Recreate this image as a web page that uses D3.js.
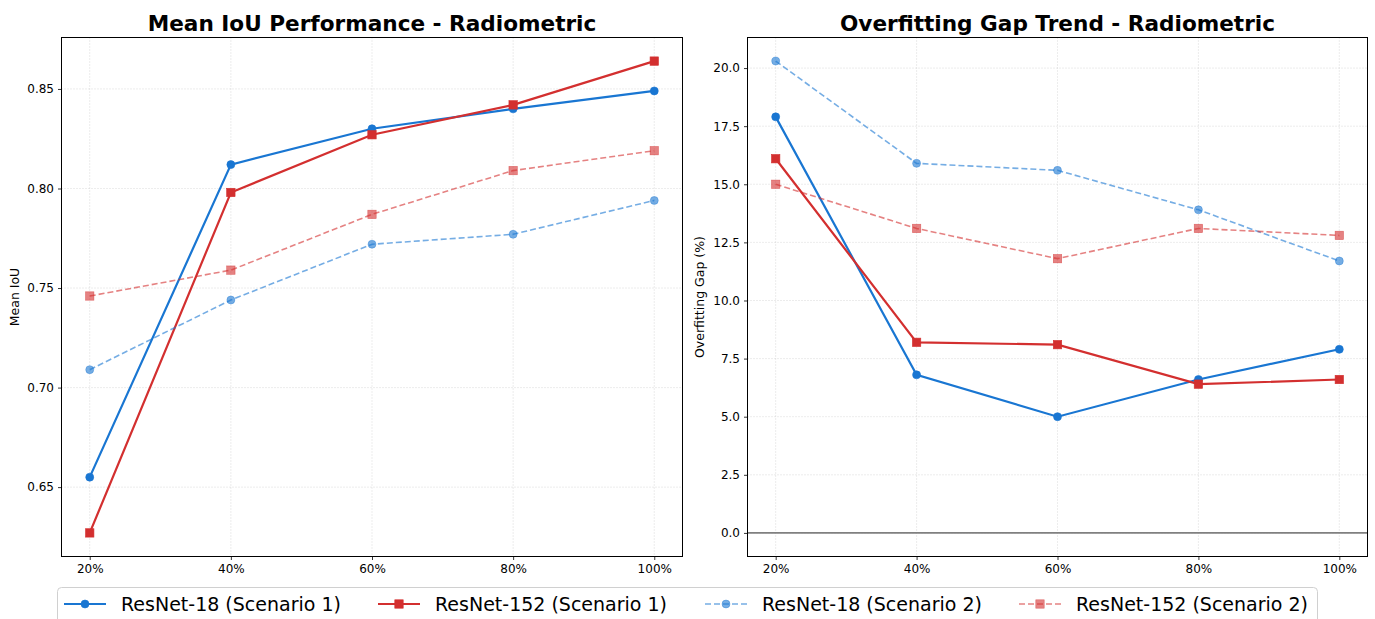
<!DOCTYPE html>
<html>
<head>
<meta charset="utf-8">
<script src="https://cdn.jsdelivr.net/npm/d3@7"></script>
<style>
  html, body { margin: 0; padding: 0; background: #fff; }
  svg { display: block; font-family: "DejaVu Sans", sans-serif; }
</style>
</head>
<body>
<svg id="chart" width="1375" height="619"></svg>
<script>
// Training-data fractions shown on the x axis
const fractions = ["20%", "40%", "60%", "80%", "100%"];

// Mean IoU per model / scenario
const iouR18S1  = [0.655, 0.812, 0.830, 0.840, 0.849];
const iouR152S1 = [0.627, 0.798, 0.827, 0.842, 0.864];
const iouR18S2  = [0.709, 0.744, 0.772, 0.777, 0.794];
const iouR152S2 = [0.746, 0.759, 0.787, 0.809, 0.819];

// Overfitting gap (%) per model / scenario
const gapR18S1  = [17.9, 6.8, 5.0, 6.6, 7.9];
const gapR152S1 = [16.1, 8.2, 8.1, 6.4, 6.6];
const gapR18S2  = [20.3, 15.9, 15.6, 13.9, 11.7];
const gapR152S2 = [15.0, 13.1, 11.8, 13.1, 12.8];

// Tick values
const iouTicks = [0.65, 0.70, 0.75, 0.80, 0.85];
const gapTicks = [0, 2.5, 5, 7.5, 10, 12.5, 15, 17.5, 20];

const seriesNames = ["ResNet-18 (Scenario 1)", "ResNet-152 (Scenario 1)",
                     "ResNet-18 (Scenario 2)", "ResNet-152 (Scenario 2)"];

const BLUE = "#1976D2", RED = "#D32F2F";
const styles = [
  { color: BLUE, marker: "circle", dashed: false, opacity: 1,   width: 2.2 },
  { color: RED,  marker: "square", dashed: false, opacity: 1,   width: 2.2 },
  { color: BLUE, marker: "circle", dashed: true,  opacity: 0.6, width: 1.6 },
  { color: RED,  marker: "square", dashed: true,  opacity: 0.6, width: 1.6 }
];

const svg = d3.select("#chart");

function drawMarker(sel, st, x, y) {
  if (st.marker === "circle") {
    sel.append("circle").attr("cx", x).attr("cy", y).attr("r", 4)
      .attr("fill", st.color).attr("fill-opacity", st.opacity)
      .attr("stroke", st.color).attr("stroke-opacity", st.opacity).attr("stroke-width", 0.6);
  } else {
    sel.append("rect").attr("x", x - 4.2).attr("y", y - 4.2).attr("width", 8.4).attr("height", 8.4)
      .attr("fill", st.color).attr("fill-opacity", st.opacity)
      .attr("stroke", st.color).attr("stroke-opacity", st.opacity).attr("stroke-width", 0.6);
  }
}

function drawPanel(opt) {
  const { left, right, top, bottom, data, yDomain, yTicks, yFmt, title, yLabel, zeroLine, yLabelX } = opt;
  const g = svg.append("g");

  const x = d3.scaleLinear().domain([-0.2, 4.2]).range([left, right]);
  const y = d3.scaleLinear().domain(yDomain).range([bottom, top]);

  // grid
  const grid = g.append("g").attr("stroke", "#b0b0b0").attr("stroke-opacity", 0.6)
    .attr("stroke-width", 0.8).attr("stroke-dasharray", "1,2");
  fractions.forEach((f, i) => {
    grid.append("line").attr("x1", x(i)).attr("x2", x(i)).attr("y1", top).attr("y2", bottom);
  });
  yTicks.forEach(t => {
    grid.append("line").attr("x1", left).attr("x2", right).attr("y1", y(t)).attr("y2", y(t));
  });

  if (zeroLine) {
    g.append("line").attr("x1", left).attr("x2", right).attr("y1", y(0)).attr("y2", y(0))
      .attr("stroke", "#808080").attr("stroke-width", 1.6);
  }

  // series
  const line = d3.line().x((d, i) => x(i)).y(d => y(d));
  data.forEach((vals, k) => {
    const st = styles[k];
    g.append("path").attr("d", line(vals)).attr("fill", "none")
      .attr("stroke", st.color).attr("stroke-opacity", st.opacity)
      .attr("stroke-width", st.width)
      .attr("stroke-dasharray", st.dashed ? "6,3" : null);
    const mk = g.append("g");
    vals.forEach((v, i) => drawMarker(mk, st, x(i), y(v)));
  });

  // axes
  const xAxis = d3.axisBottom(x).tickValues(d3.range(fractions.length))
    .tickFormat(i => fractions[i]).tickSizeOuter(0).tickSize(3.5).tickPadding(4);
  const yAxis = d3.axisLeft(y).tickValues(yTicks).tickFormat(yFmt)
    .tickSizeOuter(0).tickSize(3.5).tickPadding(4);
  const gx = g.append("g").attr("transform", `translate(0,${bottom})`).call(xAxis);
  const gy = g.append("g").attr("transform", `translate(${left},0)`).call(yAxis);
  [gx, gy].forEach(a => {
    a.select(".domain").remove();
    a.selectAll("text").attr("font-size", 12).attr("fill", "#000")
      .attr("font-family", "DejaVu Sans, sans-serif");
    a.selectAll("line").attr("stroke", "#000").attr("stroke-width", 0.8);
  });

  // frame
  g.append("rect").attr("x", left).attr("y", top).attr("width", right - left).attr("height", bottom - top)
    .attr("fill", "none").attr("stroke", "#000").attr("stroke-width", 1);

  // title
  g.append("text").attr("x", (left + right) / 2).attr("y", 31)
    .attr("text-anchor", "middle").attr("font-size", 21.6).attr("font-weight", "bold").text(title);

  // y label
  g.append("text").attr("transform", `translate(${yLabelX},${(top + bottom) / 2}) rotate(-90)`)
    .attr("text-anchor", "middle").attr("font-size", 12.5).text(yLabel);
}

drawPanel({
  left: 61.5, right: 682.5, top: 37.5, bottom: 556.5,
  data: [iouR18S1, iouR152S1, iouR18S2, iouR152S2],
  yDomain: [0.61515, 0.87585], yTicks: iouTicks, yFmt: d3.format(".2f"),
  title: "Mean IoU Performance - Radiometric", yLabel: "Mean IoU", zeroLine: false, yLabelX: 19
});

drawPanel({
  left: 747.5, right: 1367.5, top: 37.5, bottom: 556.5,
  data: [gapR18S1, gapR152S1, gapR18S2, gapR152S2],
  yDomain: [-1.015, 21.315], yTicks: gapTicks, yFmt: d3.format(".1f"),
  title: "Overfitting Gap Trend - Radiometric", yLabel: "Overfitting Gap (%)", zeroLine: true, yLabelX: 704
});

// legend
const leg = svg.append("g");
leg.append("rect").attr("x", 57.5).attr("y", 587.5).attr("width", 1260).attr("height", 40)
  .attr("rx", 4).attr("fill", "#fff").attr("stroke", "#d0d0d0").attr("stroke-width", 1);
const handleX = [64, 378, 705, 1019];
seriesNames.forEach((name, k) => {
  const st = styles[k];
  const hx = handleX[k], hy = 604;
  leg.append("line").attr("x1", hx).attr("x2", hx + 42).attr("y1", hy).attr("y2", hy)
    .attr("stroke", st.color).attr("stroke-opacity", st.opacity).attr("stroke-width", st.width)
    .attr("stroke-dasharray", st.dashed ? "6,3" : null);
  drawMarker(leg, st, hx + 21, hy);
  leg.append("text").attr("x", hx + 57).attr("y", hy + 7).attr("font-size", 19).text(name);
});
</script>
</body>
</html>
